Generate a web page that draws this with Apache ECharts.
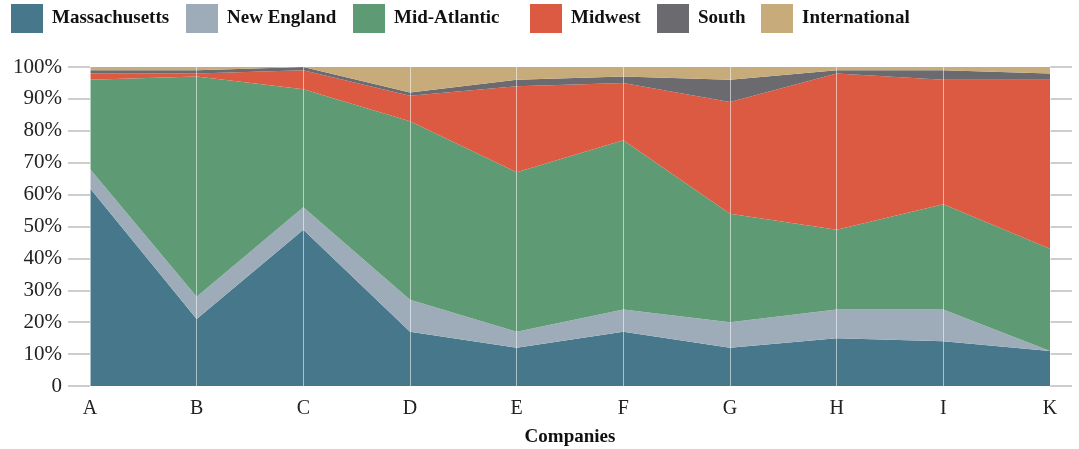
<!DOCTYPE html>
<html>
<head>
<meta charset="utf-8">
<style>
    html, body { margin: 0; padding: 0; background: #fff; }
    #chart { width: 1079px; height: 449px; }
</style>
<script src="https://cdn.jsdelivr.net/npm/echarts@6/dist/echarts.min.js"></script>
</head>
<body>
<div id="chart"></div>
<script>
    // values, percent share per company
    var companies = ["A", "B", "C", "D", "E", "F", "G", "H", "I", "K"];
    var massachusetts = [62, 21, 49, 17, 12, 17, 12, 15, 14, 11];
    var newEngland = [6, 7, 7, 10, 5, 7, 8, 9, 10, 0];
    var midAtlantic = [28, 69, 37, 56, 50, 53, 34, 25, 33, 32];
    var midwest = [2, 1, 6, 8, 27, 18, 35, 49, 39, 53];
    var south = [1, 1, 1, 1, 2, 2, 7, 1, 3, 2];
    var international = [1, 1, 0, 8, 4, 3, 4, 1, 1, 2];
    var yTicks = [0, 10, 20, 30, 40, 50, 60, 70, 80, 90, 100];

    var font = "'Liberation Serif', 'DejaVu Serif', serif";
    var colors = ['#46778a', '#9eacba', '#5e9b74', '#dc5a42', '#6a6a6f', '#c8ab7b'];

    var seriesList = [
        {name: 'Massachusetts', data: massachusetts},
        {name: 'New England', data: newEngland},
        {name: 'Mid-Atlantic', data: midAtlantic},
        {name: 'Midwest', data: midwest},
        {name: 'South', data: south},
        {name: 'International', data: international}
    ];

    // one small legend per item, so each swatch sits where the original has it
    var legendLeft = [11, 186, 353, 530, 657, 761];

    var chart = echarts.init(document.getElementById('chart'));

    var option = {
        animation: false,
        color: colors,
        textStyle: {fontFamily: font},
        legend: seriesList.map(function (s, i) {
            return {
                left: legendLeft[i],
                top: 4,
                padding: 0,
                itemWidth: 32,
                itemHeight: 29,
                icon: 'rect',
                textStyle: {
                    fontFamily: font,
                    fontSize: 19,
                    fontWeight: 'bold',
                    color: '#111',
                    padding: [0, 0, 0, 4]
                },
                data: [s.name]
            };
        }),
        grid: {
            left: 90,
            right: 29,
            top: 67,
            bottom: 63,
            outerBoundsMode: 'none'
        },
        xAxis: {
            type: 'category',
            boundaryGap: false,
            data: companies,
            z: 5,
            axisLine: {show: false},
            axisTick: {show: false},
            axisLabel: {
                margin: 13,
                fontFamily: font,
                fontSize: 20,
                color: '#222'
            },
            splitLine: {
                show: true,
                lineStyle: {color: 'rgba(255,255,255,0.55)', width: 1}
            },
            name: 'Companies',
            nameLocation: 'middle',
            nameGap: 42,
            nameTextStyle: {
                fontFamily: font,
                fontSize: 19,
                fontWeight: 'bold',
                color: '#111'
            }
        },
        yAxis: [
            {
                type: 'value',
                min: yTicks[0],
                max: yTicks[yTicks.length - 1],
                interval: 10,
                axisLine: {show: false},
                axisTick: {
                    show: true,
                    length: 22,
                    lineStyle: {color: '#bdbdbd', width: 1.5}
                },
                splitLine: {show: false},
                axisLabel: {
                    margin: 28,
                    fontFamily: font,
                    fontSize: 21,
                    color: '#222',
                    formatter: function (v) { return v === 0 ? '0' : v + '%'; }
                }
            },
            {
                type: 'value',
                position: 'right',
                min: yTicks[0],
                max: yTicks[yTicks.length - 1],
                interval: 10,
                axisLine: {show: false},
                axisTick: {
                    show: true,
                    length: 22,
                    lineStyle: {color: '#bdbdbd', width: 1.5}
                },
                splitLine: {show: false},
                axisLabel: {show: false}
            }
        ],
        series: seriesList.map(function (s) {
            return {
                name: s.name,
                type: 'line',
                stack: 'total',
                symbol: 'none',
                lineStyle: {width: 0},
                areaStyle: {opacity: 1},
                data: s.data
            };
        })
    };

    chart.setOption(option, true);
</script>
</body>
</html>
